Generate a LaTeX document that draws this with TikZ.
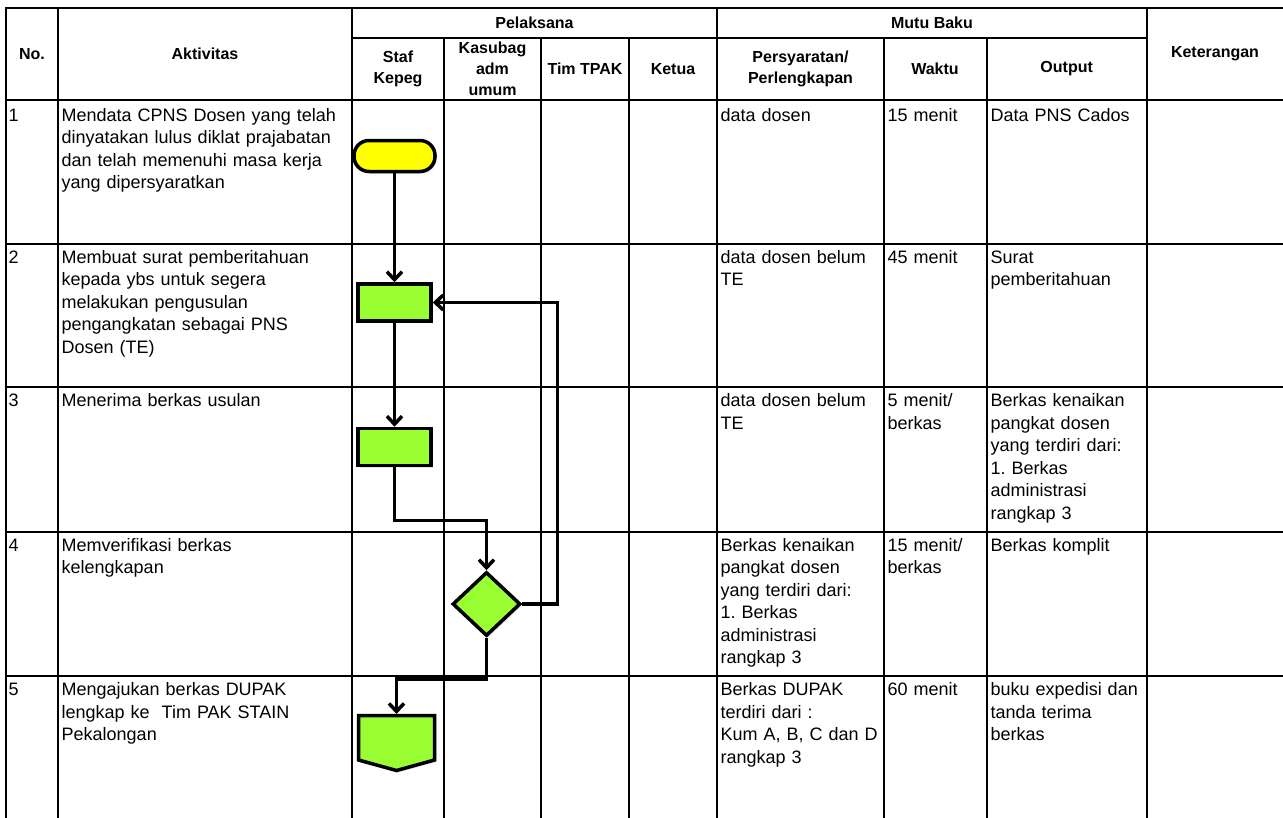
\documentclass[tikz,border=0pt]{standalone}
\usepackage{fontspec}
\setmainfont{Liberation Sans}
\usetikzlibrary{arrows.meta,shapes.geometric,shadows}
\definecolor{flowgreen}{RGB}{153,255,51}
\definecolor{flowyellow}{RGB}{255,255,0}
\frenchspacing
\begin{document}
\begin{tikzpicture}[x=1pt,y=-1pt,
  gridline/.style={line width=2pt,line cap=rect},
  hdr/.style={font=\bfseries\fontsize{16pt}{21pt}\selectfont,align=center,inner sep=0pt,anchor=center},
  cell/.style={font=\fontsize{18pt}{22.5pt}\selectfont,anchor=base west,inner sep=0pt,text width=#1,align=left},
  shp/.style={draw=black,line width=3.5pt,inner sep=0pt,
    drop shadow={shadow xshift=2pt,shadow yshift=-2pt,opacity=0.2}},
  term/.style={shp,rectangle,rounded corners=15pt,fill=flowyellow,minimum width=81pt,minimum height=31pt},
  proc/.style={shp,rectangle,fill=flowgreen,minimum width=73pt,minimum height=37pt},
  dec/.style={shp,diamond,fill=flowgreen,minimum width=68pt,minimum height=64pt},
  conn/.style={line width=3.5pt,-{Straight Barb[length=8pt,width=15pt]}}]
\useasboundingbox (0,0) rectangle (1283,817);
\fill[white] (0,0) rectangle (1283,817);
% ---- table grid ----
\draw[gridline] (6,7.5) -- (1283,7.5);
\draw[gridline] (352,38) -- (1146.7,38);
\foreach \yy in {100,243.5,387.3,531.7,676}{
  \draw[gridline] (6,\yy) -- (1283,\yy);
}
\foreach \xx in {6,58,352,717,1146.7}{
  \draw[gridline] (\xx,7.5) -- (\xx,817);
}
\foreach \xx in {444,541,629,884,986.7}{
  \draw[gridline] (\xx,38) -- (\xx,817);
}
% ---- header ----
\node[hdr] (hno) at (32,54) {No.};
\node[hdr] (hakt) at (205,54) {Aktivitas};
\node[hdr] (hpel) at (534.5,22.5) {Pelaksana};
\node[hdr] (hstaf) at (398,69) {Staf\\Kepeg};
\node[hdr] (hkas) at (492.5,69) {Kasubag\\adm\\umum};
\node[hdr] (htim) at (585,69) {Tim TPAK};
\node[hdr] (hket) at (673,69) {Ketua};
\node[hdr] (hmutu) at (932,22.5) {Mutu Baku};
\node[hdr] (hper) at (800.5,69) {Persyaratan/\\Perlengkapan};
\node[hdr] (hwak) at (935,69) {Waktu};
\node[hdr] (hout) at (1066.7,69) {Output};
\node[hdr] (hketr) at (1215,54) {Keterangan};
% ---- row 1 ----
\node[cell=40pt] (n1) at (8.5,121.2) {1};
\node[cell=290pt] (a1) at (61.5,121.2) {Mendata CPNS Dosen yang telah\\dinyatakan lulus diklat prajabatan\\dan telah memenuhi masa kerja\\yang dipersyaratkan};
\node[cell=165pt] (q1) at (720.5,121.2) {data dosen};
\node[cell=100pt] (w1) at (887.5,121.2) {15 menit};
\node[cell=158pt] (o1) at (990.5,121.2) {Data PNS Cados};
% ---- row 2 ----
\node[cell=40pt] (n2) at (8.5,263) {2};
\node[cell=290pt] (a2) at (61.5,263) {Membuat surat pemberitahuan\\kepada ybs untuk segera\\melakukan pengusulan\\pengangkatan sebagai PNS\\Dosen (TE)};
\node[cell=165pt] (q2) at (720.5,263) {data dosen belum\\TE};
\node[cell=100pt] (w2) at (887.5,263) {45 menit};
\node[cell=158pt] (o2) at (990.5,263) {Surat\\pemberitahuan};
% ---- row 3 ----
\node[cell=40pt] (n3) at (8.5,406.8) {3};
\node[cell=290pt] (a3) at (61.5,406.8) {Menerima berkas usulan};
\node[cell=165pt] (q3) at (720.5,406.8) {data dosen belum\\TE};
\node[cell=100pt] (w3) at (887.5,406.8) {5 menit/\\berkas};
\node[cell=158pt] (o3) at (990.5,406.8) {Berkas kenaikan\\pangkat dosen\\yang terdiri dari:\\1. Berkas\\administrasi\\rangkap 3};
% ---- row 4 ----
\node[cell=40pt] (n4) at (8.5,551.2) {4};
\node[cell=290pt] (a4) at (61.5,551.2) {Memverifikasi berkas\\kelengkapan};
\node[cell=165pt] (q4) at (720.5,551.2) {Berkas kenaikan\\pangkat dosen\\yang terdiri dari:\\1. Berkas\\administrasi\\rangkap 3};
\node[cell=100pt] (w4) at (887.5,551.2) {15 menit/\\berkas};
\node[cell=158pt] (o4) at (990.5,551.2) {Berkas komplit};
% ---- row 5 ----
\node[cell=40pt] (n5) at (8.5,695.5) {5};
\node[cell=290pt] (a5) at (61.5,695.5) {Mengajukan berkas DUPAK\\lengkap ke\ \ Tim PAK STAIN\\Pekalongan};
\node[cell=165pt] (q5) at (720.5,695.5) {Berkas DUPAK\\terdiri dari :\\Kum A, B, C dan D\\rangkap 3};
\node[cell=100pt] (w5) at (887.5,695.5) {60 menit};
\node[cell=158pt] (o5) at (990.5,695.5) {buku expedisi dan\\tanda terima\\berkas};
% ---- flow shapes ----
\node[term] (t1) at (394.5,156) {};
\node[proc] (p2) at (394.5,302.5) {};
\node[proc] (p3) at (394.5,447) {};
\node[dec] (d4) at (486.5,604) {};
\filldraw[fill=flowgreen,draw=black,line width=3.5pt,
  drop shadow={shadow xshift=2pt,shadow yshift=-2pt,opacity=0.2}]
  (358.5,715.5) -- (434.5,715.5) -- (434.5,760) -- (396.5,770.5) -- (358.5,760) -- cycle;
\coordinate (p5) at (396.5,714);
% ---- connectors ----
\draw[conn] (t1.south) -- (p2.north);
\draw[conn] (p2.south) -- (p3.north);
\draw[conn] (p3.south) -- ++(0,53) -| (d4.north);
\draw[conn] (d4.east) -- ++(35,0) |- (p2.east);
\draw[conn] (d4.south) -- ++(0,41) -| (p5);
\end{tikzpicture}
\end{document}
